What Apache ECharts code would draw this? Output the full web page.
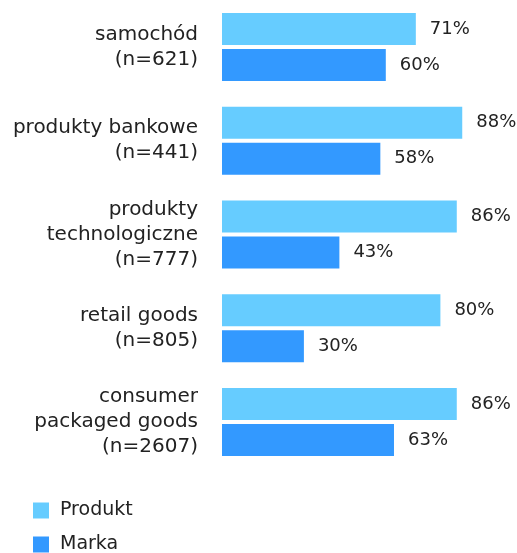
<!DOCTYPE html>
<html>
<head>
<meta charset="utf-8">
<script src="https://cdn.jsdelivr.net/npm/echarts@6/dist/echarts.min.js"></script>
<style>
  html, body { margin: 0; padding: 0; background: #fff; }
  #chart { width: 517px; height: 553px; }
</style>
</head>
<body>
<div id="chart"></div>
<script>
const categories = [
  'samochód\n(n=621)',
  'produkty bankowe\n(n=441)',
  'produkty\ntechnologiczne\n(n=777)',
  'retail goods\n(n=805)',
  'consumer\npackaged goods\n(n=2607)'
]
const produkt = [71, 88, 86, 80, 86]
const marka = [60, 58, 43, 30, 63]
const seriesNames = ['Produkt', 'Marka']

const font = '"DejaVu Sans", sans-serif'
const chart = echarts.init(document.getElementById('chart'))

const labelStyle = {
  show: true,
  position: 'right',
  distance: 14,
  formatter: '{c}%',
  fontSize: 18,
  fontFamily: font,
  color: '#222'
}

// one legend per item so they stack like the original
const legendAt = (name, top) => ({
  left: 33,
  top: top,
  padding: 0,
  itemWidth: 16,
  itemHeight: 16,
  icon: 'rect',
  textStyle: { fontSize: 19, fontFamily: font, color: '#222', padding: [0, 0, 0, 6] },
  data: [name]
})

chart.setOption({
  animation: false,
  grid: {
    left: 222,
    top: -1,
    height: 470,
    width: 273
  },
  legend: [legendAt(seriesNames[0], 501), legendAt(seriesNames[1], 535)],
  xAxis: {
    type: 'value',
    min: 0,
    max: 100,
    show: false
  },
  yAxis: {
    type: 'category',
    inverse: true,
    data: categories,
    axisLine: { show: false },
    axisTick: { show: false },
    axisLabel: {
      margin: 24,
      fontSize: 20,
      lineHeight: 25,
      fontFamily: font,
      color: '#222',
      align: 'right'
    }
  },
  series: [
    {
      name: seriesNames[0],
      type: 'bar',
      data: produkt,
      barWidth: 32,
      barGap: '12.5%',
      itemStyle: { color: '#66CCFF' },
      label: labelStyle
    },
    {
      name: seriesNames[1],
      type: 'bar',
      data: marka,
      barWidth: 32,
      itemStyle: { color: '#3399FF' },
      label: labelStyle
    }
  ]
})
</script>
</body>
</html>
